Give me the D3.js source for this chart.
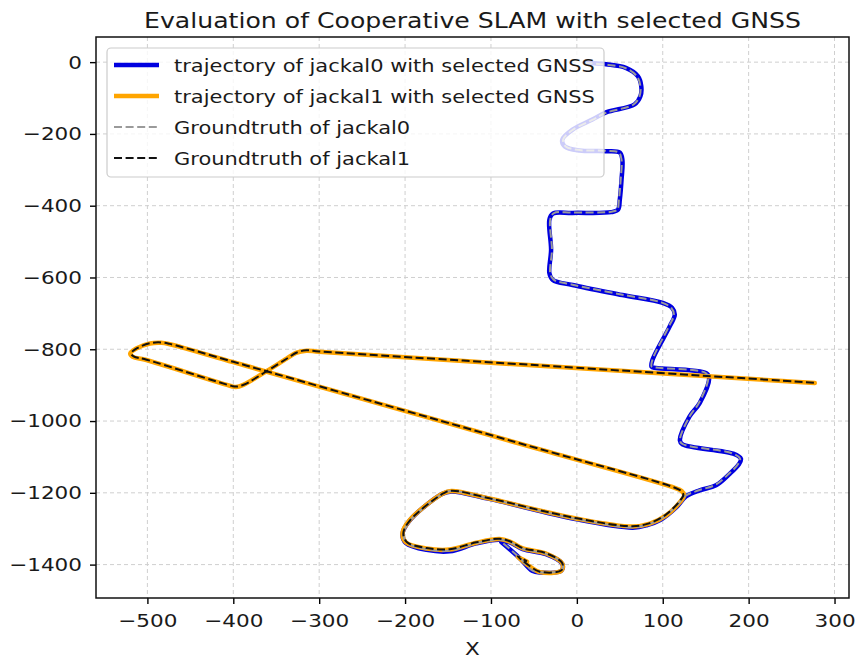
<!DOCTYPE html>
<html>
<head>
<meta charset="utf-8">
<script src="https://cdn.jsdelivr.net/npm/d3@7"></script>
<style>
  body { margin: 0; background: #fff; }
  svg { display: block; font-family: "DejaVu Sans", sans-serif; }
</style>
</head>
<body>
<svg id="chart"></svg>
<script>
// trajectories, [x, y]
const jackal0Traj = [
  [9, -1], [34, -6], [57, -16], [71, -39], [75, -67], [74, -95], [67, -118], [34, -140],
  [18, -160], [-5, -188], [-17, -216], [-14, -235], [3, -246], [34, -248], [50, -252],
  [53, -272], [52, -328], [50, -383], [48, -411], [40, -418], [-5, -420], [-28, -422],
  [-32, -439], [-30, -523], [-32, -588], [-28, -607], [-5, -621], [53, -649], [100, -671],
  [111, -685], [114, -704], [108, -737], [88, -830], [87, -849], [92, -852], [151, -867],
  [154, -881], [143, -950], [131, -988], [120, -1054], [123, -1065], [182, -1091],
  [191, -1105], [189, -1119], [178, -1147], [162, -1179], [143, -1193], [127, -1210],
  [116, -1240], [97, -1276], [82, -1290], [65, -1297], [0, -1274], [-102, -1217],
  [-146, -1196], [-157, -1203], [-195, -1278], [-203, -1315], [-199, -1340], [-175, -1359],
  [-148, -1363], [-117, -1341], [-90, -1331], [-78, -1338], [-63, -1357], [-36, -1371],
  [-17, -1398], [-18, -1417], [-43, -1422], [-52, -1417], [-67, -1381], [-88, -1337]
];

const jackal1Traj = [
  [277, -894], [-43, -846], [-300, -807], [-315, -804], [-327, -810], [-338, -826],
  [-362, -862], [-389, -900], [-397, -905], [-402, -903], [-501, -830], [-517, -821],
  [-520, -812], [-513, -798], [-497, -784], [-484, -782], [-474, -786], [-400, -836],
  [-300, -904], [-43, -1079], [110, -1183], [122, -1195], [125, -1207], [120, -1226],
  [104, -1263], [85, -1286], [65, -1294], [0, -1272], [-102, -1216], [-146, -1195],
  [-156, -1202], [-195, -1277], [-203, -1313], [-199, -1338], [-175, -1355], [-148, -1358],
  [-117, -1339], [-90, -1329], [-78, -1336], [-63, -1355], [-36, -1369], [-17, -1397],
  [-18, -1417], [-43, -1421], [-55, -1405], [-64, -1388], [-69, -1378], [-58, -1392]
];

const jackal0Truth = [
  [9, -2], [34, -7], [57, -17], [70, -40], [74, -67], [73, -95], [66, -118], [34, -141],
  [18, -161], [-5, -189], [-16, -216], [-13, -235], [3, -245], [34, -247], [49, -252],
  [52, -272], [51, -328], [49, -383], [47, -411], [40, -417], [-5, -419], [-27, -421],
  [-31, -439], [-29, -523], [-31, -588], [-27, -606], [-5, -620], [53, -648], [99, -670],
  [110, -685], [113, -704], [107, -737], [88, -829], [87, -848], [92, -851], [150, -866],
  [153, -881], [142, -950], [131, -988], [120, -1053], [123, -1064], [181, -1090],
  [190, -1105], [188, -1119], [177, -1147], [161, -1178], [142, -1193], [126, -1209],
  [115, -1239], [96, -1275], [81, -1289], [65, -1296], [0, -1273], [-102, -1216],
  [-146, -1195], [-156, -1202], [-194, -1277], [-202, -1314], [-198, -1339], [-175, -1357],
  [-148, -1361], [-117, -1340], [-90, -1330], [-78, -1337], [-63, -1356], [-36, -1370],
  [-17, -1397], [-18, -1416], [-43, -1421], [-52, -1416], [-67, -1380], [-88, -1336]
];

const jackal1Truth = [
  [276, -893], [-43, -845], [-300, -806], [-315, -803], [-326, -809], [-337, -825],
  [-361, -861], [-388, -899], [-397, -904], [-402, -902], [-501, -829], [-516, -820],
  [-519, -811], [-512, -797], [-497, -783], [-484, -781], [-474, -785], [-400, -835],
  [-300, -903], [-43, -1078], [110, -1182], [121, -1194], [124, -1206], [119, -1225],
  [103, -1262], [84, -1285], [65, -1293], [0, -1271], [-102, -1215], [-146, -1194],
  [-155, -1201], [-194, -1276], [-202, -1312], [-198, -1337], [-175, -1354], [-148, -1357],
  [-117, -1338], [-90, -1328], [-78, -1335], [-63, -1354], [-36, -1368], [-17, -1396],
  [-18, -1416], [-43, -1420], [-55, -1404], [-64, -1387], [-69, -1377], [-58, -1391]
];

const xTicks = [-500, -400, -300, -200, -100, 0, 100, 200, 300];
const yTicks = [0, -200, -400, -600, -800, -1000, -1200, -1400];

const seriesNames = [
  "trajectory of jackal0 with selected GNSS",
  "trajectory of jackal1 with selected GNSS",
  "Groundtruth of jackal0",
  "Groundtruth of jackal1"
];

const width = 856;
const height = 662;
const box = { left: 96, right: 849, top: 37, bottom: 598 };
// the reference picture is a bit wider than tall, so text is stretched sideways
const stretch = "scale(1.165,1)";

const svg = d3.select("#chart").attr("width", width).attr("height", height);

// autoscale like matplotlib: data extent + 5% each side
const allPts = jackal0Traj.concat(jackal1Traj, jackal0Truth, jackal1Truth);
const xExt = d3.extent(allPts, (d) => d[0]);
const yExt = d3.extent(allPts, (d) => d[1]);
const xPad = (xExt[1] - xExt[0]) * 0.05;
const yPad = (yExt[1] - yExt[0]) * 0.05;

const x = d3.scaleLinear()
  .domain([xExt[0] - xPad, xExt[1] + xPad])
  .range([box.left, box.right]);
const y = d3.scaleLinear()
  .domain([yExt[0] - yPad, yExt[1] + yPad])
  .range([box.bottom, box.top]);

// grid
const grid = svg.append("g").attr("class", "grid")
  .attr("stroke", "#cfcfcf").attr("stroke-width", 1).attr("stroke-dasharray", "4,3");
grid.selectAll("line.vx").data(xTicks).enter().append("line")
  .attr("x1", (d) => x(d)).attr("x2", (d) => x(d))
  .attr("y1", box.top).attr("y2", box.bottom);
grid.selectAll("line.hy").data(yTicks).enter().append("line")
  .attr("x1", box.left).attr("x2", box.right)
  .attr("y1", (d) => y(d)).attr("y2", (d) => y(d));

const line = d3.line()
  .x((d) => x(d[0]))
  .y((d) => y(d[1]))
  .curve(d3.curveCatmullRom.alpha(0.5));

const plot = svg.append("g").attr("fill", "none")
  .attr("stroke-linejoin", "round").attr("stroke-linecap", "round");

plot.append("path").datum(jackal0Traj).attr("d", line)
  .attr("stroke", "#0000e0").attr("stroke-width", 4.5);
plot.append("path").datum(jackal1Traj).attr("d", line)
  .attr("stroke", "orange").attr("stroke-width", 4.5);
plot.append("path").datum(jackal0Truth).attr("d", line)
  .attr("stroke", "#9a9a9a").attr("stroke-width", 2)
  .attr("stroke-linecap", "butt").attr("stroke-dasharray", "8,3.5");
plot.append("path").datum(jackal1Truth).attr("d", line)
  .attr("stroke", "#111").attr("stroke-width", 2)
  .attr("stroke-linecap", "butt").attr("stroke-dasharray", "8,3.5");

// axes
const xAxis = svg.append("g")
  .attr("transform", `translate(0,${box.bottom})`)
  .call(d3.axisBottom(x).tickValues(xTicks).tickFormat(d3.format("d"))
    .tickSize(6).tickPadding(10));
const yAxis = svg.append("g")
  .attr("transform", `translate(${box.left},0)`)
  .call(d3.axisLeft(y).tickValues(yTicks).tickFormat(d3.format("d"))
    .tickSize(6).tickPadding(7));

[xAxis, yAxis].forEach((g) => {
  g.select(".domain").remove();
  g.selectAll(".tick line").attr("stroke", "#000").attr("stroke-width", 1.4);
  g.selectAll(".tick text").attr("fill", "#1a1a1a").attr("font-size", 18.5)
    .attr("font-family", "DejaVu Sans").attr("transform", stretch);
});
yAxis.selectAll(".tick text").attr("x", -12);

// frame
svg.append("rect")
  .attr("x", box.left).attr("y", box.top)
  .attr("width", box.right - box.left).attr("height", box.bottom - box.top)
  .attr("fill", "none").attr("stroke", "#111").attr("stroke-width", 1.5);

svg.append("text")
  .attr("transform", `translate(${(box.left + box.right) / 2},28) ${stretch}`)
  .attr("text-anchor", "middle").attr("font-size", 21.6).attr("fill", "#1a1a1a")
  .text("Evaluation of Cooperative SLAM with selected GNSS");

svg.append("text")
  .attr("transform", `translate(${(box.left + box.right) / 2},655) ${stretch}`)
  .attr("text-anchor", "middle").attr("font-size", 18.5).attr("fill", "#1a1a1a")
  .text("X");

// legend
const legendStyles = [
  { stroke: "#0000e0", width: 4.5, dash: null },
  { stroke: "orange", width: 4.5, dash: null },
  { stroke: "#9a9a9a", width: 2, dash: "8,3.6" },
  { stroke: "#111", width: 2, dash: "8,3.6" }
];

const legend = svg.append("g").attr("class", "legend");
legend.append("rect")
  .attr("x", 107).attr("y", 48).attr("width", 497).attr("height", 129)
  .attr("rx", 4).attr("fill", "#fff").attr("fill-opacity", 0.8)
  .attr("stroke", "#cccccc").attr("stroke-width", 1.2);

const rows = legend.selectAll("g.row").data(seriesNames).enter().append("g")
  .attr("transform", (d, i) => `translate(0,${65 + i * 31})`);
rows.append("line")
  .attr("x1", 114).attr("x2", 159).attr("y1", 0).attr("y2", 0)
  .attr("stroke", (d, i) => legendStyles[i].stroke)
  .attr("stroke-width", (d, i) => legendStyles[i].width)
  .attr("stroke-dasharray", (d, i) => legendStyles[i].dash);
rows.append("text")
  .attr("transform", `translate(174,6.5) ${stretch}`)
  .attr("font-size", 18).attr("fill", "#1a1a1a")
  .text((d) => d);
</script>
</body>
</html>
